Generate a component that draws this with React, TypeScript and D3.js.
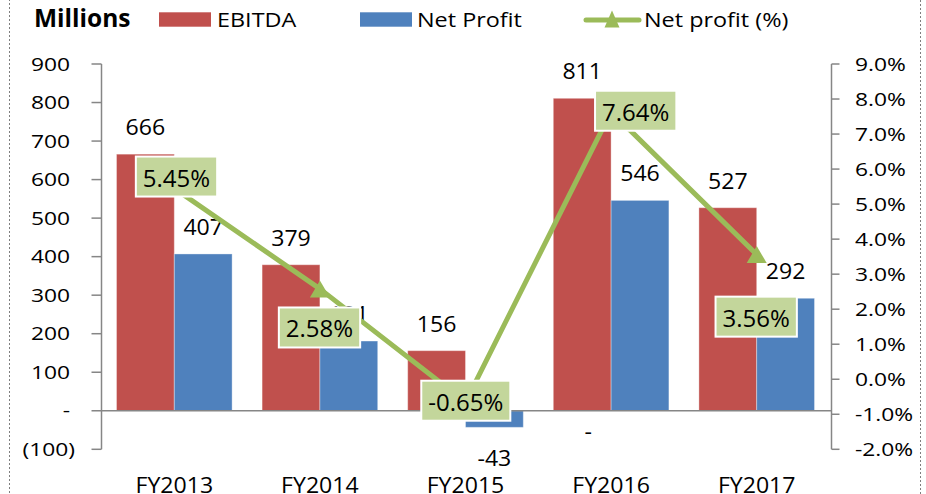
import React, { useEffect, useRef } from "react";
import * as d3 from "d3";

// ---------- data ----------
const categories = ["FY2013", "FY2014", "FY2015", "FY2016", "FY2017"];
const ebitda = [666, 379, 156, 811, 527];
const netProfit = [407, 181, -43, 546, 292];
const netProfitPct = [5.45, 2.58, -0.65, 7.64, 3.56];
const leftTicks = [-100, 0, 100, 200, 300, 400, 500, 600, 700, 800, 900];
const rightTicks = [-2, -1, 0, 1, 2, 3, 4, 5, 6, 7, 8, 9];
const seriesNames = ["EBITDA", "Net Profit"];
const lineName = "Net profit (%)";
const unitLabel = "Millions";
const zeroLabelCategories = ["FY2016"];

// ---------- layout / style ----------
const W = 926;
const H = 494;
const FONT = "'Open Sans', sans-serif";
const PLOT = { left: 101.5, right: 829.5, top: 64, bottom: 449.3 };
const COLORS = { ebitda: "#C0504D", np: "#4F81BD", line: "#9BBB59", box: "#C3D69B", axis: "#868686" };
const pctLabelOffsets: [number, number][] = [
  [2.2, -11.8],
  [-0.4, 38.6],
  [0.3, -1.3],
  [24.6, -0.9],
  [-0.5, 62.1],
];

function fmtLeft(v: number) {
  if (v < 0) return `(${-v})`;
  if (v === 0) return "-";
  return String(v);
}

export default function App() {
  const ref = useRef<SVGSVGElement | null>(null);

  useEffect(() => {
    document.body.style.margin = "0";
    const svg = d3.select(ref.current!);
    svg.selectAll("*").remove();

    const text = (
      g: d3.Selection<any, any, any, any>,
      x: number,
      y: number,
      s: string,
      o: { size: number; sx?: number; anchor?: string; weight?: string; fill?: string }
    ) =>
      g
        .append("text")
        .attr("transform", `translate(${x},${y}) scale(${o.sx ?? 1},1)`)
        .attr("text-anchor", o.anchor ?? "start")
        .style("font-family", FONT)
        .style("font-size", `${o.size}px`)
        .style("font-weight", o.weight ?? "normal")
        .attr("fill", o.fill ?? "#000")
        .text(s);

    // border (dotted)
    svg
      .append("rect")
      .attr("x", 9.5)
      .attr("y", -5)
      .attr("width", 911)
      .attr("height", H + 10)
      .attr("fill", "none")
      .attr("stroke", "#7f7f7f")
      .attr("stroke-dasharray", "2,2");

    const x = d3
      .scaleBand<string>()
      .domain(categories)
      .range([PLOT.left, PLOT.right])
      .paddingInner(0.206)
      .paddingOuter(0.103);
    const xs = d3.scaleBand<string>().domain(seriesNames).range([0, x.bandwidth()]);
    const yL = d3.scaleLinear().domain([-100, 900]).range([PLOT.bottom, PLOT.top]);
    const yR = d3.scaleLinear().domain([-2, 9]).range([PLOT.bottom, PLOT.top]);

    // left axis
    const ax = svg.append("g");
    ax.append("line")
      .attr("x1", PLOT.left).attr("x2", PLOT.left)
      .attr("y1", yL(900)).attr("y2", yL(-100))
      .attr("stroke", COLORS.axis).attr("stroke-width", 1.5);
    leftTicks.forEach((v) => {
      ax.append("line")
        .attr("x1", PLOT.left - 10).attr("x2", PLOT.left)
        .attr("y1", yL(v)).attr("y2", yL(v))
        .attr("stroke", COLORS.axis).attr("stroke-width", 1.5);
      text(ax, v < 0 ? 75 : 70, yL(v) + 6.7, fmtLeft(v), { size: 19, sx: 1.2, anchor: "end" });
    });

    // right axis
    ax.append("line")
      .attr("x1", PLOT.right + 2).attr("x2", PLOT.right + 2)
      .attr("y1", yR(9)).attr("y2", yR(-2))
      .attr("stroke", COLORS.axis).attr("stroke-width", 1.5);
    rightTicks.forEach((v) => {
      ax.append("line")
        .attr("x1", PLOT.right + 2).attr("x2", PLOT.right + 10)
        .attr("y1", yR(v)).attr("y2", yR(v))
        .attr("stroke", COLORS.axis).attr("stroke-width", 1.5);
      text(ax, 855, yR(v) + 6.7, `${v.toFixed(1)}%`, { size: 19, sx: 1.2 });
    });

    // bars
    const bars = svg.append("g");
    const series = [
      { name: seriesNames[0], vals: ebitda, color: COLORS.ebitda },
      { name: seriesNames[1], vals: netProfit, color: COLORS.np },
    ];
    series.forEach((s) => {
      s.vals.forEach((v, i) => {
        const bx = x(categories[i])! + xs(s.name)!;
        const y0 = yL(0);
        const y1 = yL(v);
        bars.append("rect")
          .attr("x", bx).attr("width", xs.bandwidth())
          .attr("y", Math.min(y0, y1)).attr("height", Math.abs(y1 - y0))
          .attr("fill", s.color)
          .attr("stroke", "rgba(255,255,255,0.35)").attr("stroke-width", 1);
      });
    });

    // category axis (zero line)
    svg.append("line")
      .attr("x1", PLOT.left).attr("x2", PLOT.right + 2)
      .attr("y1", yL(0)).attr("y2", yL(0))
      .attr("stroke", COLORS.axis).attr("stroke-width", 1.5);

    // bar value labels
    const labels = svg.append("g");
    series.forEach((s) => {
      s.vals.forEach((v, i) => {
        const cx = x(categories[i])! + xs(s.name)! + xs.bandwidth() / 2;
        const y = v >= 0 ? yL(v) - 19 : yL(v) + 39;
        text(labels, cx, y, String(v), { size: 21, sx: 1.1, anchor: "middle" });
      });
    });
    zeroLabelCategories.forEach((c) => {
      const cx = x(c)! + xs(seriesNames[0])! + xs.bandwidth() / 2 + 6;
      text(labels, cx, yL(0) + 28, "-", { size: 21, sx: 1.1, anchor: "middle" });
    });

    // line
    const pts = netProfitPct.map((v, i) => [x(categories[i])! + x.bandwidth() / 2, yR(v)] as [number, number]);
    svg.append("path")
      .attr("d", d3.line()(pts)!)
      .attr("fill", "none")
      .attr("stroke", COLORS.line)
      .attr("stroke-width", 5)
      .attr("stroke-linejoin", "round");
    const tri = (cx: number, cy: number, w: number, h: number) =>
      `M${cx},${cy - h / 2}L${cx + w / 2},${cy + h / 2}L${cx - w / 2},${cy + h / 2}Z`;
    pts.forEach(([px, py]) => {
      svg.append("path").attr("d", tri(px, py, 20, 17)).attr("fill", COLORS.line);
    });

    // pct labels
    const pg = svg.append("g");
    netProfitPct.forEach((v, i) => {
      const [px, py] = pts[i];
      const [dx, dy] = pctLabelOffsets[i];
      const cx = px + dx;
      const cy = py + dy;
      const g = pg.append("g");
      const t = text(g, cx, cy + 10, `${v.toFixed(2)}%`, { size: 24, anchor: "middle" });
      const bb = (t.node() as SVGTextElement).getBBox();
      const w = bb.width + 14;
      g.insert("rect", "text")
        .attr("x", cx - w / 2).attr("y", cy - 20)
        .attr("width", w).attr("height", 40)
        .attr("fill", COLORS.box)
        .attr("stroke", "#fff").attr("stroke-width", 2);
    });

    // legend
    const lg = svg.append("g");
    text(lg, 34, 27.3, unitLabel, { size: 25, sx: 0.98, weight: "bold" });
    lg.append("rect").attr("x", 159).attr("y", 12.3).attr("width", 52).attr("height", 14.4).attr("fill", COLORS.ebitda);
    text(lg, 217, 27, seriesNames[0], { size: 20, sx: 1.17 });
    lg.append("rect").attr("x", 360).attr("y", 12.3).attr("width", 52).attr("height", 14.4).attr("fill", COLORS.np);
    text(lg, 417, 27, seriesNames[1], { size: 20, sx: 1.17 });
    lg.append("line").attr("x1", 586).attr("x2", 639).attr("y1", 20).attr("y2", 20)
      .attr("stroke", COLORS.line).attr("stroke-width", 5).attr("stroke-linecap", "round");
    lg.append("path").attr("d", tri(612, 19, 15, 17)).attr("fill", COLORS.line);
    text(lg, 644, 27, lineName, { size: 20, sx: 1.17 });

    // category labels
    categories.forEach((c) => {
      text(svg, x(c)! + x.bandwidth() / 2, 492.7, c, { size: 21, sx: 1.1, anchor: "middle" });
    });
  }, []);

  return (
    <svg
      ref={ref}
      width={W}
      height={H}
      style={{ position: "absolute", left: 0, top: 0, display: "block", background: "#fff" }}
    />
  );
}
